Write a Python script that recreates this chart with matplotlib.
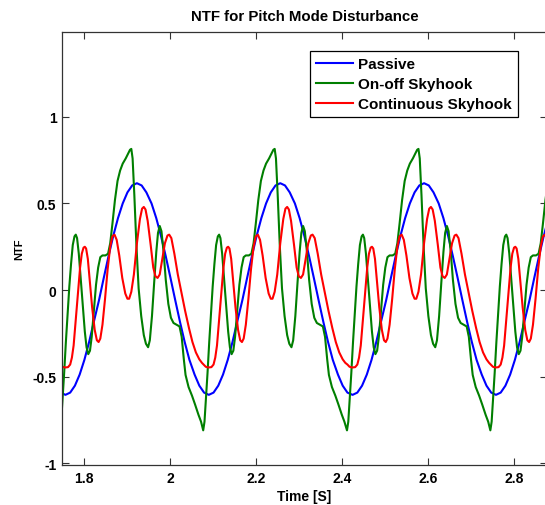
import matplotlib
matplotlib.use("Agg")
import matplotlib.pyplot as plt

plt.rcParams["font.family"] = ["Liberation Sans", "DejaVu Sans"]
plt.rcParams["font.weight"] = "bold"

TITLE = "NTF for Pitch Mode Disturbance"
X_LABEL = "Time [S]"
Y_LABEL = "NTF"
SERIES_NAMES = ["Passive", "On-off Skyhook", "Continuous Skyhook"]
X_TICKS = [1.8, 2.0, 2.2, 2.4, 2.6, 2.8]
X_TICK_LABELS = ["1.8", "2", "2.2", "2.4", "2.6", "2.8"]
Y_TICKS = [-1, -0.5, 0, 0.5, 1]
Y_TICK_LABELS = ["-1", "-0.5", "0", "0.5", "1"]

# Passive response
passive_t = [
    1.746,
    1.757, 1.768, 1.779, 1.790, 1.801, 1.812, 1.823, 1.835, 1.846, 1.857,
    1.868, 1.879, 1.890, 1.901, 1.912, 1.923, 1.934, 1.945, 1.957, 1.968,
    1.979, 1.990, 2.001, 2.012, 2.023, 2.034, 2.045, 2.057, 2.068, 2.079,
    2.090, 2.101, 2.112, 2.123, 2.134, 2.145, 2.156, 2.168, 2.179, 2.190,
    2.201, 2.212, 2.223, 2.234, 2.245, 2.256, 2.267, 2.278, 2.290, 2.301,
    2.312, 2.323, 2.334, 2.345, 2.356, 2.367, 2.378, 2.390, 2.401, 2.412,
    2.424, 2.435, 2.446, 2.457, 2.468, 2.479, 2.490, 2.502, 2.513, 2.524,
    2.535, 2.546, 2.557, 2.568, 2.579, 2.590, 2.601, 2.612, 2.624, 2.635,
    2.646, 2.657, 2.668, 2.679, 2.690, 2.701, 2.712, 2.724, 2.735, 2.746,
    2.757, 2.768, 2.779, 2.790, 2.801, 2.812, 2.823, 2.835, 2.846, 2.857,
    2.868, 2.879, 2.890,
]
passive_y = [
    -0.592,
    -0.605, -0.592, -0.552, -0.488, -0.403, -0.300, -0.183, -0.058, 0.070, 0.195,
    0.312, 0.415, 0.500, 0.564, 0.604, 0.617, 0.604, 0.564, 0.500, 0.415,
    0.312, 0.195, 0.070, -0.058, -0.183, -0.300, -0.403, -0.488, -0.552, -0.592,
    -0.605, -0.592, -0.552, -0.488, -0.403, -0.300, -0.183, -0.058, 0.070, 0.195,
    0.312, 0.415, 0.500, 0.564, 0.604, 0.617, 0.604, 0.564, 0.500, 0.415,
    0.312, 0.195, 0.070, -0.058, -0.183, -0.300, -0.403, -0.488, -0.552, -0.592,
    -0.605, -0.592, -0.552, -0.488, -0.403, -0.300, -0.183, -0.058, 0.070, 0.195,
    0.312, 0.415, 0.500, 0.564, 0.604, 0.617, 0.604, 0.564, 0.500, 0.415,
    0.312, 0.195, 0.070, -0.058, -0.183, -0.300, -0.403, -0.488, -0.552, -0.592,
    -0.605, -0.592, -0.552, -0.488, -0.403, -0.300, -0.183, -0.058, 0.070, 0.195,
    0.312, 0.415, 0.500,
]

# On-off skyhook response
onoff_t = [
    1.744, 1.747, 1.750, 1.754, 1.758, 1.762, 1.766, 1.770, 1.774, 1.778,
    1.781, 1.784, 1.788, 1.792, 1.797, 1.802, 1.806, 1.810, 1.814, 1.818,
    1.823, 1.828, 1.833, 1.838, 1.843, 1.850, 1.856, 1.861, 1.866, 1.872,
    1.878, 1.884, 1.890, 1.897, 1.903, 1.907, 1.910, 1.913, 1.917, 1.922,
    1.927, 1.933, 1.939, 1.944, 1.949, 1.953, 1.958, 1.963, 1.968, 1.972,
    1.976, 1.980, 1.985, 1.990, 1.996, 2.002, 2.008, 2.015, 2.022, 2.027,
    2.032, 2.036, 2.043, 2.051, 2.058, 2.066, 2.072,
    2.077, 2.080, 2.083, 2.087, 2.091, 2.095, 2.099, 2.103, 2.107, 2.111,
    2.114, 2.117, 2.121, 2.125, 2.130, 2.135, 2.139, 2.143, 2.147, 2.151,
    2.156, 2.161, 2.166, 2.171, 2.176, 2.183, 2.189, 2.194, 2.199, 2.205,
    2.211, 2.217, 2.223, 2.230, 2.236, 2.240, 2.243, 2.246, 2.250, 2.255,
    2.260, 2.266, 2.272, 2.277, 2.282, 2.286, 2.291, 2.296, 2.301, 2.305,
    2.309, 2.313, 2.318, 2.323, 2.329, 2.335, 2.341, 2.348, 2.355, 2.360,
    2.365, 2.369, 2.376, 2.384, 2.391, 2.399, 2.405,
    2.411, 2.414, 2.417, 2.421, 2.425, 2.429, 2.433, 2.437, 2.441, 2.445,
    2.448, 2.451, 2.455, 2.459, 2.464, 2.469, 2.473, 2.477, 2.481, 2.485,
    2.490, 2.495, 2.500, 2.505, 2.510, 2.517, 2.523, 2.528, 2.533, 2.539,
    2.545, 2.551, 2.557, 2.564, 2.570, 2.574, 2.577, 2.580, 2.584, 2.589,
    2.594, 2.600, 2.606, 2.611, 2.616, 2.620, 2.625, 2.630, 2.635, 2.639,
    2.643, 2.647, 2.652, 2.657, 2.663, 2.669, 2.675, 2.682, 2.689, 2.694,
    2.699, 2.703, 2.710, 2.718, 2.725, 2.733, 2.739,
    2.744, 2.747, 2.750, 2.754, 2.758, 2.762, 2.766, 2.770, 2.774, 2.778,
    2.781, 2.784, 2.788, 2.792, 2.797, 2.802, 2.806, 2.810, 2.814, 2.818,
    2.823, 2.828, 2.833, 2.838, 2.843, 2.850, 2.856, 2.861, 2.866, 2.872,
    2.878,
]
onoff_y = [
    -0.81, -0.76, -0.64, -0.48, -0.30, -0.14, 0.02, 0.15, 0.26, 0.31,
    0.32, 0.30, 0.21, 0.08, -0.09, -0.24, -0.33, -0.37, -0.35, -0.27,
    -0.12, 0.03, 0.13, 0.19, 0.20, 0.20, 0.21, 0.27, 0.38, 0.52,
    0.63, 0.69, 0.73, 0.76, 0.79, 0.81, 0.815, 0.76, 0.55, 0.25,
    0.01, -0.15, -0.26, -0.31, -0.33, -0.29, -0.15, 0.04, 0.22, 0.33,
    0.37, 0.34, 0.22, 0.06, -0.08, -0.16, -0.19, -0.20, -0.21, -0.27,
    -0.40, -0.49, -0.56, -0.61, -0.66, -0.72, -0.76,
    -0.81, -0.76, -0.64, -0.48, -0.30, -0.14, 0.02, 0.15, 0.26, 0.31,
    0.32, 0.30, 0.21, 0.08, -0.09, -0.24, -0.33, -0.37, -0.35, -0.27,
    -0.12, 0.03, 0.13, 0.19, 0.20, 0.20, 0.21, 0.27, 0.38, 0.52,
    0.63, 0.69, 0.73, 0.76, 0.79, 0.81, 0.815, 0.76, 0.55, 0.25,
    0.01, -0.15, -0.26, -0.31, -0.33, -0.29, -0.15, 0.04, 0.22, 0.33,
    0.37, 0.34, 0.22, 0.06, -0.08, -0.16, -0.19, -0.20, -0.21, -0.27,
    -0.40, -0.49, -0.56, -0.61, -0.66, -0.72, -0.76,
    -0.81, -0.76, -0.64, -0.48, -0.30, -0.14, 0.02, 0.15, 0.26, 0.31,
    0.32, 0.30, 0.21, 0.08, -0.09, -0.24, -0.33, -0.37, -0.35, -0.27,
    -0.12, 0.03, 0.13, 0.19, 0.20, 0.20, 0.21, 0.27, 0.38, 0.52,
    0.63, 0.69, 0.73, 0.76, 0.79, 0.81, 0.815, 0.76, 0.55, 0.25,
    0.01, -0.15, -0.26, -0.31, -0.33, -0.29, -0.15, 0.04, 0.22, 0.33,
    0.37, 0.34, 0.22, 0.06, -0.08, -0.16, -0.19, -0.20, -0.21, -0.27,
    -0.40, -0.49, -0.56, -0.61, -0.66, -0.72, -0.76,
    -0.81, -0.76, -0.64, -0.48, -0.30, -0.14, 0.02, 0.15, 0.26, 0.31,
    0.32, 0.30, 0.21, 0.08, -0.09, -0.24, -0.33, -0.37, -0.35, -0.27,
    -0.12, 0.03, 0.13, 0.19, 0.20, 0.20, 0.21, 0.27, 0.38, 0.52,
    0.63,
]

# Continuous skyhook response
cont_t = [
    1.745, 1.750, 1.756, 1.763, 1.768, 1.772, 1.776, 1.780, 1.786, 1.791,
    1.795, 1.799, 1.802, 1.805, 1.809, 1.813, 1.819, 1.825, 1.830, 1.834,
    1.838, 1.843, 1.849, 1.855, 1.861, 1.866, 1.871, 1.876, 1.882, 1.889,
    1.896, 1.901, 1.905, 1.910, 1.916, 1.923, 1.930, 1.935, 1.939, 1.943,
    1.948, 1.955, 1.961, 1.966, 1.971, 1.976, 1.982, 1.988, 1.994, 1.998,
    2.003, 2.010, 2.018, 2.026, 2.035, 2.044, 2.052, 2.060, 2.068, 2.074,
    2.078, 2.083, 2.089, 2.096, 2.101, 2.105, 2.109, 2.113, 2.119, 2.124,
    2.128, 2.132, 2.135, 2.138, 2.142, 2.146, 2.152, 2.158, 2.163, 2.167,
    2.171, 2.176, 2.182, 2.188, 2.194, 2.199, 2.204, 2.209, 2.215, 2.222,
    2.229, 2.234, 2.238, 2.243, 2.249, 2.256, 2.263, 2.268, 2.272, 2.276,
    2.281, 2.288, 2.294, 2.299, 2.304, 2.309, 2.315, 2.321, 2.327, 2.331,
    2.336, 2.343, 2.351, 2.359, 2.368, 2.377, 2.385, 2.393, 2.401, 2.407,
    2.412, 2.417, 2.423, 2.430, 2.435, 2.439, 2.443, 2.447, 2.453, 2.458,
    2.462, 2.466, 2.469, 2.472, 2.476, 2.480, 2.486, 2.492, 2.497, 2.501,
    2.505, 2.510, 2.516, 2.522, 2.528, 2.533, 2.538, 2.543, 2.549, 2.556,
    2.563, 2.568, 2.572, 2.577, 2.583, 2.590, 2.597, 2.602, 2.606, 2.610,
    2.615, 2.622, 2.628, 2.633, 2.638, 2.643, 2.649, 2.655, 2.661, 2.665,
    2.670, 2.677, 2.685, 2.693, 2.702, 2.711, 2.719, 2.727, 2.735, 2.741,
    2.745, 2.750, 2.756, 2.763, 2.768, 2.772, 2.776, 2.780, 2.786, 2.791,
    2.795, 2.799, 2.802, 2.805, 2.809, 2.813, 2.819, 2.825, 2.830, 2.834,
    2.838, 2.843, 2.849, 2.855, 2.861, 2.866, 2.871, 2.876, 2.882,
]
cont_y = [
    -0.43, -0.443, -0.447, -0.445, -0.43, -0.39, -0.32, -0.20, -0.02, 0.13,
    0.21, 0.245, 0.25, 0.24, 0.18, 0.07, -0.10, -0.23, -0.29, -0.30,
    -0.28, -0.20, -0.05, 0.12, 0.25, 0.31, 0.32, 0.29, 0.20, 0.07,
    -0.02, -0.05, -0.05, -0.01, 0.09, 0.27, 0.41, 0.47, 0.48, 0.465,
    0.40, 0.26, 0.13, 0.08, 0.07, 0.09, 0.18, 0.27, 0.315, 0.32,
    0.30, 0.21, 0.09, -0.01, -0.12, -0.22, -0.30, -0.36, -0.40, -0.42,
    -0.43, -0.443, -0.447, -0.445, -0.43, -0.39, -0.32, -0.20, -0.02, 0.13,
    0.21, 0.245, 0.25, 0.24, 0.18, 0.07, -0.10, -0.23, -0.29, -0.30,
    -0.28, -0.20, -0.05, 0.12, 0.25, 0.31, 0.32, 0.29, 0.20, 0.07,
    -0.02, -0.05, -0.05, -0.01, 0.09, 0.27, 0.41, 0.47, 0.48, 0.465,
    0.40, 0.26, 0.13, 0.08, 0.07, 0.09, 0.18, 0.27, 0.315, 0.32,
    0.30, 0.21, 0.09, -0.01, -0.12, -0.22, -0.30, -0.36, -0.40, -0.42,
    -0.43, -0.443, -0.447, -0.445, -0.43, -0.39, -0.32, -0.20, -0.02, 0.13,
    0.21, 0.245, 0.25, 0.24, 0.18, 0.07, -0.10, -0.23, -0.29, -0.30,
    -0.28, -0.20, -0.05, 0.12, 0.25, 0.31, 0.32, 0.29, 0.20, 0.07,
    -0.02, -0.05, -0.05, -0.01, 0.09, 0.27, 0.41, 0.47, 0.48, 0.465,
    0.40, 0.26, 0.13, 0.08, 0.07, 0.09, 0.18, 0.27, 0.315, 0.32,
    0.30, 0.21, 0.09, -0.01, -0.12, -0.22, -0.30, -0.36, -0.40, -0.42,
    -0.43, -0.443, -0.447, -0.445, -0.43, -0.39, -0.32, -0.20, -0.02, 0.13,
    0.21, 0.245, 0.25, 0.24, 0.18, 0.07, -0.10, -0.23, -0.29, -0.30,
    -0.28, -0.20, -0.05, 0.12, 0.25, 0.31, 0.32, 0.29, 0.20,
]

COLORS = ["#0000ff", "#007f00", "#ff0000"]


def main():
    fig = plt.figure(figsize=(5.45, 5.06), dpi=100)
    ax = fig.add_axes([62 / 545, 40 / 506, 1.004 - 62 / 545, 433 / 506])

    series = [(passive_t, passive_y), (onoff_t, onoff_y), (cont_t, cont_y)]
    for (t, y), name, color in zip(series, SERIES_NAMES, COLORS):
        ax.plot(t, y, color=color, linewidth=1.5, label=name)

    ax.set_xlim(1.749, 2.876)
    ax.set_ylim(-1.01, 1.49)
    ax.set_xticks(X_TICKS, X_TICK_LABELS)
    ax.set_yticks(Y_TICKS, Y_TICK_LABELS)
    ax.tick_params(direction="in", length=5, width=0.8, top=True, right=True,
                   labelsize=10, pad=4, colors="#333333", labelcolor="black")
    for spine in ax.spines.values():
        spine.set_color("#333333")
        spine.set_linewidth(0.9)

    ax.set_title(TITLE, fontsize=10.8, fontweight="bold", pad=9)
    ax.set_xlabel(X_LABEL, fontsize=10, fontweight="bold", labelpad=3)
    ax.set_ylabel(Y_LABEL, fontsize=8, fontweight="bold", labelpad=6)

    leg = ax.legend(loc="upper right", bbox_to_anchor=(518 / 545, 1 - 52 / 506),
                    bbox_transform=fig.transFigure, borderaxespad=0,
                    fancybox=False, edgecolor="black", framealpha=1,
                    prop={"size": 11, "weight": "bold"}, handlelength=2.4,
                    handletextpad=0.35, borderpad=0.4, labelspacing=0.4)
    leg.get_frame().set_linewidth(0.9)

    fig.savefig("out.png", dpi=100)


if __name__ == "__main__":
    main()
